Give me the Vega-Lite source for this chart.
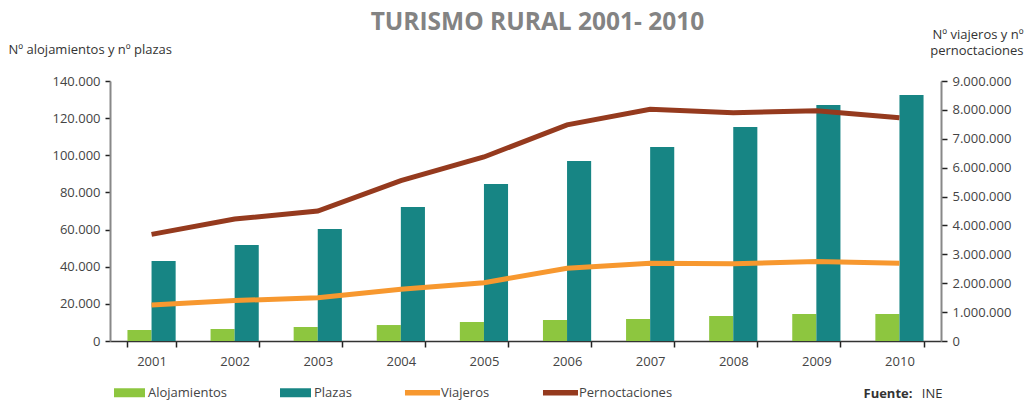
{
  "$schema": "https://vega.github.io/schema/vega-lite/v6.json",
  "autosize": {"type": "none"},
  "padding": {"left": 110, "top": 81, "right": 90, "bottom": 59},
  "width": 831,
  "height": 260,
  "background": "white",
  "title": {
    "text": "TURISMO RURAL 2001- 2010",
    "anchor": "middle",
    "dx": 12,
    "fontSize": 24.5,
    "font": "Open Sans",
    "fontWeight": "bold",
    "color": "#838383",
    "offset": -7
  },
  "config": {
    "view": {"stroke": null},
    "font": "Open Sans",
    "axis": {"labelFont": "Open Sans", "titleFont": "Open Sans", "grid": false}
  },
  "data": {
    "values": [
      {"year": "2001", "serie": "Alojamientos", "value": 5920},
      {"year": "2002", "serie": "Alojamientos", "value": 6460},
      {"year": "2003", "serie": "Alojamientos", "value": 7540},
      {"year": "2004", "serie": "Alojamientos", "value": 8600},
      {"year": "2005", "serie": "Alojamientos", "value": 10230},
      {"year": "2006", "serie": "Alojamientos", "value": 11300},
      {"year": "2007", "serie": "Alojamientos", "value": 11850},
      {"year": "2008", "serie": "Alojamientos", "value": 13460},
      {"year": "2009", "serie": "Alojamientos", "value": 14540},
      {"year": "2010", "serie": "Alojamientos", "value": 14540},
      {"year": "2001", "serie": "Plazas", "value": 43080},
      {"year": "2002", "serie": "Plazas", "value": 51700},
      {"year": "2003", "serie": "Plazas", "value": 60300},
      {"year": "2004", "serie": "Plazas", "value": 72160},
      {"year": "2005", "serie": "Plazas", "value": 84500},
      {"year": "2006", "serie": "Plazas", "value": 96900},
      {"year": "2007", "serie": "Plazas", "value": 104500},
      {"year": "2008", "serie": "Plazas", "value": 115200},
      {"year": "2009", "serie": "Plazas", "value": 127100},
      {"year": "2010", "serie": "Plazas", "value": 132500},
      {"year": "2001", "serie": "Viajeros", "value": 1250000},
      {"year": "2002", "serie": "Viajeros", "value": 1400000},
      {"year": "2003", "serie": "Viajeros", "value": 1500000},
      {"year": "2004", "serie": "Viajeros", "value": 1790000},
      {"year": "2005", "serie": "Viajeros", "value": 2020000},
      {"year": "2006", "serie": "Viajeros", "value": 2520000},
      {"year": "2007", "serie": "Viajeros", "value": 2690000},
      {"year": "2008", "serie": "Viajeros", "value": 2670000},
      {"year": "2009", "serie": "Viajeros", "value": 2750000},
      {"year": "2010", "serie": "Viajeros", "value": 2690000},
      {"year": "2001", "serie": "Pernoctaciones", "value": 3690000},
      {"year": "2002", "serie": "Pernoctaciones", "value": 4220000},
      {"year": "2003", "serie": "Pernoctaciones", "value": 4500000},
      {"year": "2004", "serie": "Pernoctaciones", "value": 5550000},
      {"year": "2005", "serie": "Pernoctaciones", "value": 6370000},
      {"year": "2006", "serie": "Pernoctaciones", "value": 7480000},
      {"year": "2007", "serie": "Pernoctaciones", "value": 8020000},
      {"year": "2008", "serie": "Pernoctaciones", "value": 7900000},
      {"year": "2009", "serie": "Pernoctaciones", "value": 7970000},
      {"year": "2010", "serie": "Pernoctaciones", "value": 7730000}
    ]
  },
  "encoding": {
    "x": {
      "field": "year",
      "type": "nominal",
      "scale": {"paddingInner": 0.42, "paddingOuter": 0.21}
    },
    "color": {
      "field": "serie",
      "type": "nominal",
      "scale": {
        "domain": ["Alojamientos", "Plazas", "Viajeros", "Pernoctaciones"],
        "range": ["#8DC63F", "#178584", "#F7982F", "#953A1E"]
      },
      "legend": {
        "title": null,
        "orient": "none",
        "legendX": 4,
        "legendY": 296,
        "direction": "horizontal",
        "columns": 4,
        "columnPadding": 52,
        "symbolSize": 961,
        "symbolType": "M-1,-0.29h2v0.58h-2z",
        "symbolStrokeWidth": 0,
        "labelOffset": 3,
        "labelFontSize": 13,
        "labelColor": "#444444",
        "labelFont": "Open Sans",
        "encode": {
          "symbols": {
            "update": {
              "shape": {"signal": "datum.value == 'Viajeros' || datum.value == 'Pernoctaciones' ? 'M-1.13,-0.17h2.26v0.34h-2.26z' : 'M-1,-0.29h2v0.58h-2z'"},
              "fill": {"scale": "color", "field": "value"},
              "strokeWidth": {"value": 0},
              "opacity": {"value": 1}
            }
          }
        }
      }
    }
  },
  "layer": [
    {
      "transform": [{"filter": "datum.serie == 'Alojamientos' || datum.serie == 'Plazas'"}],
      "mark": {"type": "bar"},
      "encoding": {
        "x": {
          "field": "year",
          "type": "nominal",
          "scale": {"paddingInner": 0.42, "paddingOuter": 0.21},
          "axis": {
            "orient": "bottom",
            "title": "INE",
            "titleFontWeight": "normal",
            "titleFontSize": 13,
            "titleColor": "#333333",
            "titleAlign": "right",
            "titleAnchor": null,
            "titleX": 832,
            "titleY": 56,
            "titleBaseline": "alphabetic",
            "labelAngle": 0,
            "labelFontSize": 13,
            "labelColor": "#444444",
            "labelPadding": 8,
            "tickBand": "extent",
            "tickSize": 6,
            "tickColor": "#222222",
            "tickWidth": 1.5,
            "domainColor": "#333333",
            "domainWidth": 1.5
          }
        },
        "xOffset": {"field": "serie", "sort": ["Alojamientos", "Plazas"]},
        "y": {
          "field": "value",
          "type": "quantitative",
          "scale": {"domain": [0, 140000]},
          "axis": {
            "values": [0, 20000, 40000, 60000, 80000, 100000, 120000, 140000],
            "labelExpr": "replace(format(datum.value, ','), /,/g, '.')",
            "title": "Nº alojamientos y nº plazas",
            "titleAngle": 0,
            "titleAlign": "left",
            "titleAnchor": null,
            "titleX": -102,
            "titleY": -28,
            "titleBaseline": "alphabetic",
            "titleFontWeight": "normal",
            "titleFontSize": 13,
            "titleColor": "#333333",
            "labelFontSize": 13,
            "labelColor": "#444444",
            "labelPadding": 5,
            "tickSize": 5,
            "tickColor": "#222222",
            "tickWidth": 1.5,
            "domainColor": "#888888",
            "domainWidth": 2
          }
        }
      }
    },
    {
      "transform": [{"filter": "datum.serie == 'Viajeros' || datum.serie == 'Pernoctaciones'"}],
      "mark": {"type": "line", "strokeWidth": 5},
      "encoding": {
        "x": {
          "field": "year",
          "type": "nominal",
          "scale": {"paddingInner": 0.42, "paddingOuter": 0.21},
          "axis": {
            "orient": "bottom",
            "title": "Fuente:",
            "titleFontWeight": "bold",
            "titleFontSize": 13,
            "titleColor": "#333333",
            "titleAlign": "left",
            "titleAnchor": null,
            "titleX": 753,
            "titleY": 56,
            "titleBaseline": "alphabetic",
            "labels": false,
            "ticks": false,
            "domain": false
          }
        },
        "y": {
          "field": "value",
          "type": "quantitative",
          "scale": {"domain": [0, 9000000]},
          "axis": {
            "orient": "right",
            "values": [0, 1000000, 2000000, 3000000, 4000000, 5000000, 6000000, 7000000, 8000000, 9000000],
            "labelExpr": "replace(format(datum.value, ','), /,/g, '.')",
            "title": ["Nº viajeros y nº", "pernoctaciones"],
            "titleAngle": 0,
            "titleAlign": "right",
            "titleAnchor": null,
            "titleX": 82,
            "titleY": -43,
            "titleBaseline": "alphabetic",
            "titleLineHeight": 16,
            "titleFontWeight": "normal",
            "titleFontSize": 13,
            "titleColor": "#333333",
            "labelFontSize": 13,
            "labelColor": "#444444",
            "labelPadding": 5,
            "tickSize": 6,
            "tickColor": "#222222",
            "tickWidth": 1.5,
            "domainColor": "#888888",
            "domainWidth": 2
          }
        }
      }
    }
  ],
  "resolve": {"scale": {"y": "independent"}, "axis": {"x": "independent"}}
}
